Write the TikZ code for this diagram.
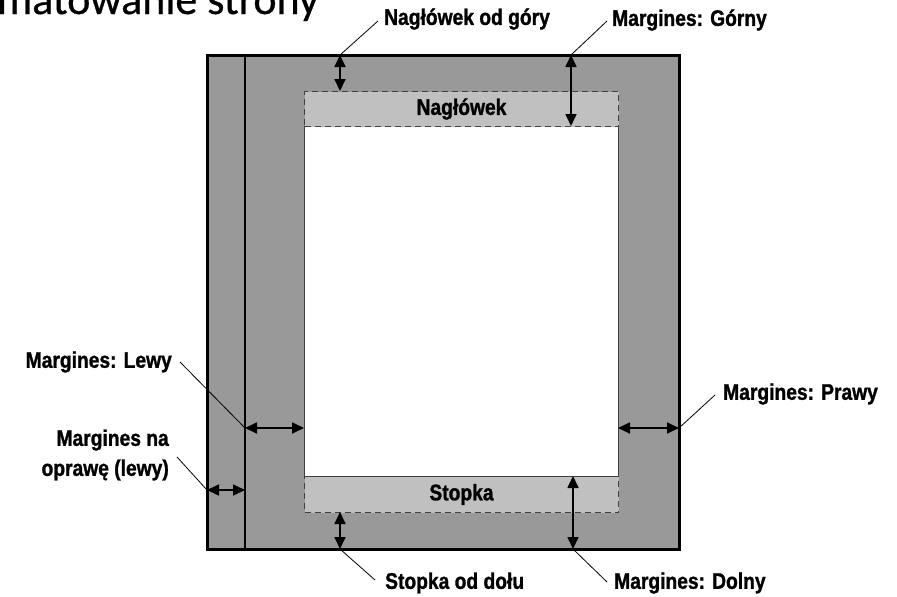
\documentclass[tikz,border=0pt]{standalone}
\usepackage{fontspec}
\setmainfont{Liberation Sans}[FakeStretch=0.855, BoldFeatures={FakeBold=1.2}]
\newfontfamily\titlefont{Carlito}[FakeBold=0.6]
\usetikzlibrary{arrows.meta}
\definecolor{margray}{HTML}{999999}
\definecolor{hfgray}{HTML}{C0C0C0}
\definecolor{dashgray}{HTML}{404040}
\tikzset{
  lbl/.style={font=\fontsize{22.5}{24}\selectfont\bfseries, inner sep=0pt},
  dim/.style={line width=1.7pt, {Triangle[length=12pt,width=11pt]}-{Triangle[length=12pt,width=11pt]}},
  leader/.style={line width=0.8pt},
  hfbox/.style={fill=hfgray, draw=dashgray, line width=1pt, dash pattern=on 6pt off 4pt},
}
\begin{document}
\begin{tikzpicture}[x=1pt,y=-1pt]
\useasboundingbox (0,0) rectangle (897,597);
\begin{scope}
\clip (0,0) rectangle (897,597);
\node[anchor=base east, inner sep=0pt, font=\titlefont\fontsize{44}{48}\selectfont] (title) at (319,14) {Formatowanie strony};
\end{scope}
% page
\draw[fill=margray, line width=3pt] (207,55) rectangle (679,549);
\draw[line width=1.2pt] (245,55) -- (245,549);
% text area
\draw[fill=white, draw=dashgray, line width=1pt] (304,126) rectangle (618,476);
\node[hfbox, minimum width=314pt, minimum height=35pt, anchor=north west] (hdr) at (304,91) {};
\node[lbl] at (hdr.center) {Nagłówek};
\node[hfbox, minimum width=314pt, minimum height=36pt, anchor=north west] (ftr) at (304,476) {};
\node[lbl] at (ftr.center) {Stopka};
% coordinates
\coordinate (a1t) at (340,55);  \coordinate (a1b) at (340,91);
\coordinate (a2t) at (571,55);  \coordinate (a2b) at (571,126);
\coordinate (a3l) at (245,428); \coordinate (a3r) at (304,428);
\coordinate (a4l) at (207,490); \coordinate (a4r) at (245,490);
\coordinate (a5l) at (618,428); \coordinate (a5r) at (679,428);
\coordinate (a6t) at (340,512); \coordinate (a6b) at (340,549);
\coordinate (a7t) at (573,476); \coordinate (a7b) at (573,549);
\draw[dim] (a1t) -- (a1b);
\draw[dim] (a2t) -- (a2b);
\draw[dim] (a3l) -- (a3r);
\draw[dim] (a4l) -- (a4r);
\draw[dim] (a5l) -- (a5r);
\draw[dim] (a6t) -- (a6b);
\draw[dim] (a7t) -- (a7b);
% labels
\node[lbl, anchor=west] (l1) at (384,19) {Nagłówek od góry};
\node[lbl, anchor=west] (l2) at (612,20) {Margines: Górny};
\node[lbl, anchor=east] (l3) at (172,362) {Margines: Lewy};
\node[lbl, anchor=east, align=right, font=\fontsize{22.5}{30}\selectfont\bfseries] (l4) at (169,455) {Margines na\\oprawę (lewy)};
\node[lbl, anchor=west] (l5) at (723,394) {Margines: Prawy};
\node[lbl, anchor=west] (l6) at (385,583) {Stopka od dołu};
\node[lbl, anchor=west] (l7) at (614,583) {Margines: Dolny};
% leaders
\coordinate (e1) at (378,21);
\coordinate (e2) at (607,21);
\coordinate (e3) at (180,362);
\coordinate (e4) at (177,457);
\coordinate (e5) at (715,395);
\coordinate (e6) at (375,580);
\coordinate (e7) at (607,582);
\draw[leader] (a1t) -- (e1);
\draw[leader] (a2t) -- (e2);
\draw[leader] (a3l) -- (e3);
\draw[leader] (a4l) -- (e4);
\draw[leader] (a5r) -- (e5);
\draw[leader] (a6b) -- (e6);
\draw[leader] (a7b) -- (e7);
\end{tikzpicture}
\end{document}
